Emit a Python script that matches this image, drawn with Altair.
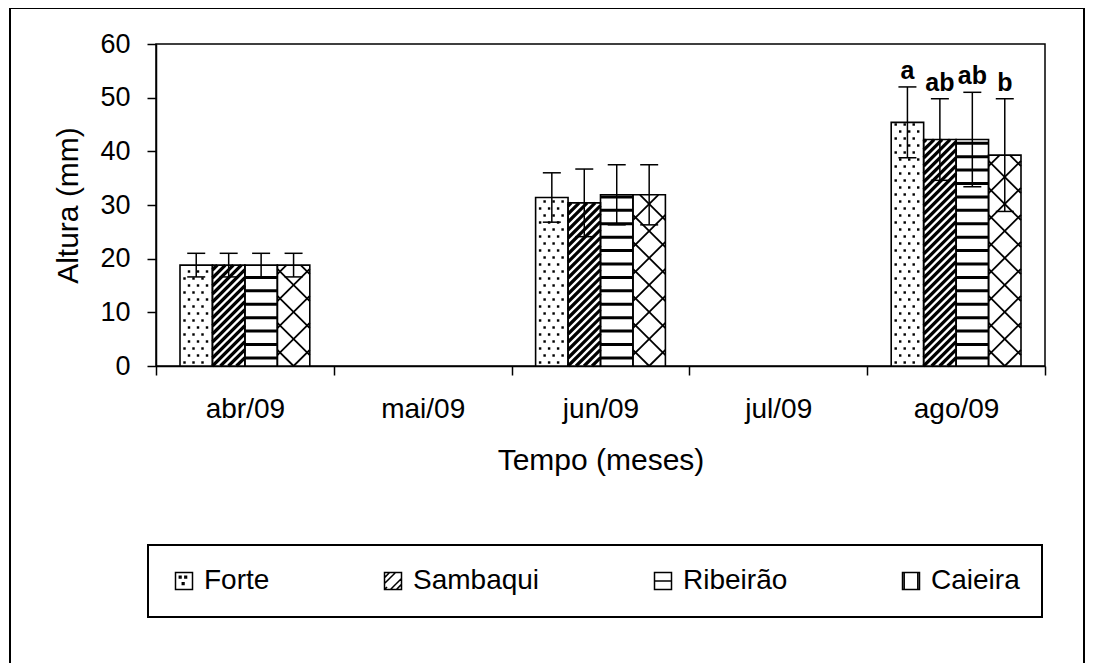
import altair as alt
import pandas as pd
import numpy as np

# ---------------- data ----------------
months = ["abr/09", "mai/09", "jun/09", "jul/09", "ago/09"]
sites = ["Forte", "Sambaqui", "Ribeirão", "Caieira"]
data_months = ["abr/09", "jun/09", "ago/09"]
forte_mean = [18.8, 31.4, 45.4]
forte_sd = [2.2, 4.6, 6.6]
sambaqui_mean = [18.8, 30.4, 42.2]
sambaqui_sd = [2.2, 6.3, 7.6]
ribeirao_mean = [18.8, 31.9, 42.2]
ribeirao_sd = [2.2, 5.6, 8.8]
caieira_mean = [18.8, 31.9, 39.3]
caieira_sd = [2.2, 5.6, 10.5]
ago_letters = ["a", "ab", "ab", "b"]

# ---------------- layout ----------------
W, H = 889, 322
YMAX = 60
XS = W / len(months)   # px per x unit (one month band)
YS = H / YMAX          # px per mm
GROUP = 0.73
BW = GROUP / len(sites)
FONT = "Liberation Sans"

means = [forte_mean, sambaqui_mean, ribeirao_mean, caieira_mean]
sds = [forte_sd, sambaqui_sd, ribeirao_sd, caieira_sd]

rows = []
for j, s in enumerate(sites):
    for k, m in enumerate(data_months):
        i = months.index(m)
        x0 = i + (1 - GROUP) / 2 + j * BW
        rows.append(dict(site=s, month=m, x0=x0, x1=x0 + BW, xc=x0 + BW / 2,
                         mean=means[j][k], lo=means[j][k] - sds[j][k],
                         hi=means[j][k] + sds[j][k], zero=0.0,
                         capl=x0 + BW / 2 - 9 / XS, capr=x0 + BW / 2 + 9 / XS))
bars = pd.DataFrame(rows)

# ---------------- patterns (derived from bar geometry) ----------------
def diag(bw, h, period, slope, phase):
    segs = []
    cmin, cmax = (-h, bw) if slope > 0 else (0, bw + h)
    c = phase + period * np.floor((cmin - phase) / period)
    while c <= cmax:
        if slope > 0:
            ylo, yhi = max(0, -c), min(h, bw - c)
        else:
            ylo, yhi = max(0, c - bw), min(h, c)
        if yhi - ylo > 0.5:
            segs.append((slope * ylo + c, ylo, slope * yhi + c, yhi))
        c += period
    return segs

dots, lines = [], []
for _, b in bars.iterrows():
    bwp = BW * XS
    hp = b["mean"] * YS
    if b.site == "Forte":
        r = 0
        yp = 3.5
        while yp < hp - 2:
            xp = 4.5 + (4.5 if r % 2 else 0)
            while xp < bwp - 2:
                dots.append(dict(x=b.x0 + xp / XS, y=yp / YS))
                xp += 9
            yp += 7
            r += 1
    elif b.site == "Sambaqui":
        for (xa, ya, xb, yb) in diag(bwp, hp, 8, 1, 0):
            lines.append(dict(kind="s", x=b.x0 + xa / XS, y=ya / YS,
                              x2=b.x0 + xb / XS, y2=yb / YS))
    elif b.site == "Ribeirão":
        yv = 1.5
        while yv < b["mean"] - 0.3:
            lines.append(dict(kind="r", x=b.x0, y=yv, x2=b.x1, y2=yv))
            yv += 2.5
    else:
        for sl in (1, -1):
            for (xa, ya, xb, yb) in diag(bwp, hp, 27, sl, bwp / 2):
                lines.append(dict(kind="c", x=b.x0 + xa / XS, y=ya / YS,
                                  x2=b.x0 + xb / XS, y2=yb / YS))
dots = pd.DataFrame(dots)
lines = pd.DataFrame(lines)

letters = bars[bars.month == "ago/09"].copy()
letters["label"] = ago_letters

# ---------------- encodings ----------------
yscale = alt.Scale(domain=[0, YMAX], nice=False)
yaxis = alt.Axis(title="Altura (mm)", values=list(range(0, 61, 10)), grid=False,
                 tickSize=9, tickWidth=1.5, tickColor="black", domainColor="black",
                 domainWidth=1.5, labelFontSize=27, labelPadding=17, labelColor="black",
                 titleFontSize=30, titleFontWeight="normal", titleColor="black",
                 titlePadding=16)
xscale = alt.Scale(domain=[0, len(months)], nice=False, zero=False)


def X(f):
    return alt.X(f, type="quantitative", scale=xscale, axis=None)


def Y(f):
    return alt.Y(f, type="quantitative", scale=yscale, axis=yaxis)


band_df = pd.DataFrame({"month": months, "zero": [0.0] * len(months)})
band_layer = alt.Chart(band_df).mark_point(opacity=0).encode(
    x=alt.X("month:N", sort=months, scale=alt.Scale(paddingInner=0, paddingOuter=0),
            axis=alt.Axis(title="Tempo (meses)", tickBand="extent", labelAngle=0,
                          tickSize=9, tickWidth=1.5, tickColor="black", domainColor="black",
                          domainWidth=1.5, labelFontSize=28, labelPadding=20,
                          labelColor="black", titleFontSize=30, titleFontWeight="normal",
                          titleColor="black", titlePadding=22)),
    y=Y("zero"),
)

bar_fill = alt.Chart(bars).mark_rect(fill="white", stroke=None).encode(
    x=X("x0"), x2="x1", y=Y("zero"), y2="mean")

dot_layer = alt.Chart(dots).mark_point(shape="square", filled=True, color="black",
                                       size=6, opacity=1).encode(x=X("x"), y=Y("y"))

samb = alt.Chart(lines).transform_filter("datum.kind == 's'").mark_rule(
    color="black", strokeWidth=3.2, strokeCap="butt").encode(
    x=X("x"), x2="x2", y=Y("y"), y2="y2")
ribe = alt.Chart(lines).transform_filter("datum.kind == 'r'").mark_rule(
    color="black", strokeWidth=3, strokeCap="butt").encode(
    x=X("x"), x2="x2", y=Y("y"), y2="y2")
caie = alt.Chart(lines).transform_filter("datum.kind == 'c'").mark_rule(
    color="black", strokeWidth=1.8, strokeCap="butt").encode(
    x=X("x"), x2="x2", y=Y("y"), y2="y2")

bar_edge = alt.Chart(bars).mark_rect(fill=None, stroke="black", strokeWidth=1.6).encode(
    x=X("x0"), x2="x1", y=Y("zero"), y2="mean")

err = alt.Chart(bars).mark_rule(color="black", strokeWidth=1.5).encode(
    x=X("xc"), y=Y("lo"), y2="hi")
cap_hi = alt.Chart(bars).mark_rule(color="black", strokeWidth=1.5).encode(
    x=X("capl"), x2="capr", y=Y("hi"))
cap_lo = alt.Chart(bars).mark_rule(color="black", strokeWidth=1.5).encode(
    x=X("capl"), x2="capr", y=Y("lo"))

txt = alt.Chart(letters).mark_text(baseline="bottom", dy=-3, fontSize=25,
                                   fontWeight="bold", color="black", font=FONT).encode(
    x=X("xc"), y=Y("hi"), text="label:N")

paths = [
    "M-1,-1H1V1H-1Z M-0.55,-0.55h0.2v0.2h-0.2Z M0.1,-0.55h0.2v0.2h-0.2Z M-0.2,0.2h0.2v0.2h-0.2Z",
    "M-1,-1H1V1H-1Z M-1,-0.4L-0.4,-1 M-1,0.3L0.3,-1 M-0.3,1L1,-0.3 M0.4,1L1,0.4 M-1,1L-0.7,0.7",
    "M-1,-1H1V1H-1Z M-1,0H1",
    "M-1,-1H1V1H-1Z M-0.8,-1V1 M0.8,-1V1",
]
leg_df = pd.DataFrame({"site": sites, "x": [0.5] * 4, "y": [0.0] * 4})
leg_layer = alt.Chart(leg_df).mark_point(opacity=0).encode(
    x=X("x"), y=Y("y"),
    shape=alt.Shape("site:N", scale=alt.Scale(domain=sites, range=paths),
                    legend=alt.Legend(title=None, orient="none", legendX=-8, legendY=501,
                                      direction="horizontal", columns=4, columnPadding=109,
                                      padding=22, strokeColor="black", labelFontSize=28,
                                      labelColor="black", labelFont=FONT, labelOffset=6,
                                      symbolSize=289, symbolStrokeWidth=1.5,
                                      symbolStrokeColor="black", symbolFillColor="white",
                                      symbolOpacity=1)),
)

one = pd.DataFrame({"k": [0]})
frame_l = alt.Chart(one).mark_rule(color="black", strokeWidth=2).encode(
    x=alt.value(-146), y=alt.value(-36), y2=alt.value(619))
frame_t = alt.Chart(one).mark_rule(color="black", strokeWidth=2).encode(
    x=alt.value(-146), x2=alt.value(928), y=alt.value(-36))
frame_r = alt.Chart(one).mark_rule(color="black", strokeWidth=2).encode(
    x=alt.value(928), y=alt.value(-36), y2=alt.value(619))

chart = alt.layer(
    band_layer, bar_fill, dot_layer, samb, ribe, caie, bar_edge, err, cap_hi, cap_lo,
    txt, leg_layer, frame_l, frame_t, frame_r,
).resolve_scale(x="independent").properties(
    width=W, height=H,
    autosize=alt.AutoSizeParams(type="none"),
    padding={"left": 148, "top": 36, "right": 40, "bottom": 297},
).configure(font=FONT).configure_view(stroke="black", strokeWidth=1.5).configure_legend(
    strokeWidth=2)

chart.save("out.html", embed_options={"renderer": "svg", "actions": False})
